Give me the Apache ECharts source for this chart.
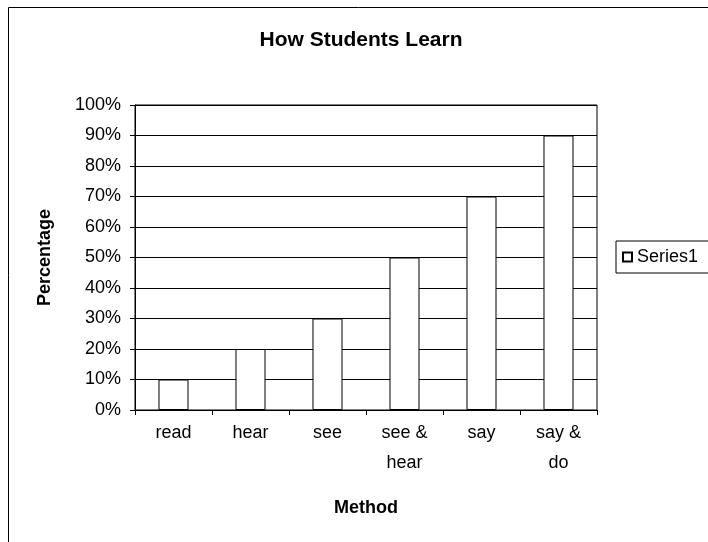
<!DOCTYPE html>
<html>
<head>
<meta charset="utf-8">
<script src="https://cdn.jsdelivr.net/npm/echarts@6/dist/echarts.min.js"></script>
<style>
  html, body { margin: 0; padding: 0; background: #fff; }
  #main { width: 708px; height: 542px; }
</style>
</head>
<body>
<div id="main"></div>
<script>
// chart data
var methods = ['read', 'hear', 'see', 'see &\nhear', 'say', 'say &\ndo'];
var percentages = [10, 20, 30, 50, 70, 90];

var myChart = echarts.init(document.getElementById('main'));
myChart.setOption({
	animation: false,
	textStyle: { fontFamily: 'Liberation Sans, Arial, sans-serif', color: '#000' },
	title: {
		text: 'How Students Learn',
		left: 356,
		top: 25,
		textAlign: 'center',
		textStyle: { fontSize: 21, fontWeight: 'bold', color: '#000', fontFamily: 'Liberation Sans' }
	},
	graphic: [{
		// chart area border (right/bottom edges run off the page)
		type: 'rect',
		shape: { x: 8.5, y: 7.5, width: 720, height: 560 },
		style: { fill: 'none', stroke: '#000', lineWidth: 1 },
		silent: true,
		z: -1
	}],
	legend: {
		left: 616,
		top: 241,
		orient: 'vertical',
		icon: 'rect',
		itemWidth: 9,
		itemHeight: 9,
		padding: [7, 20, 7, 6],
		borderColor: '#000',
		borderWidth: 1,
		textStyle: { fontSize: 18, color: '#000', fontFamily: 'Liberation Sans' },
		data: ['Series1']
	},
	grid: {
		left: 135,
		right: 111,
		top: 105,
		bottom: 132,
		show: true,
		borderColor: '#000',
		borderWidth: 1
	},
	xAxis: {
		type: 'category',
		data: methods,
		name: 'Method',
		nameLocation: 'middle',
		nameGap: 89,
		nameTextStyle: { fontSize: 18, fontWeight: 'bold', color: '#000' },
		axisLine: { lineStyle: { color: '#000' } },
		axisTick: { show: true, length: 5, lineStyle: { color: '#000' } },
		axisLabel: { fontSize: 18, color: '#000', margin: 8, lineHeight: 30, interval: 0 }
	},
	yAxis: {
		type: 'value',
		min: 0,
		max: 100,
		interval: 10,
		name: 'Percentage',
		nameLocation: 'middle',
		nameGap: 81,
		nameTextStyle: { fontSize: 18, fontWeight: 'bold', color: '#000' },
		axisLine: { show: true, lineStyle: { color: '#000' } },
		axisTick: { show: true, length: 5, lineStyle: { color: '#000' } },
		axisLabel: { fontSize: 18, color: '#000', margin: 14, formatter: '{value}%' },
		splitLine: { show: true, lineStyle: { color: '#000', width: 1 } }
	},
	series: [{
		name: 'Series1',
		type: 'bar',
		data: percentages,
		barWidth: '39%',
		itemStyle: { color: '#fff', borderColor: '#000', borderWidth: 1 }
	}]
});
</script>
</body>
</html>
